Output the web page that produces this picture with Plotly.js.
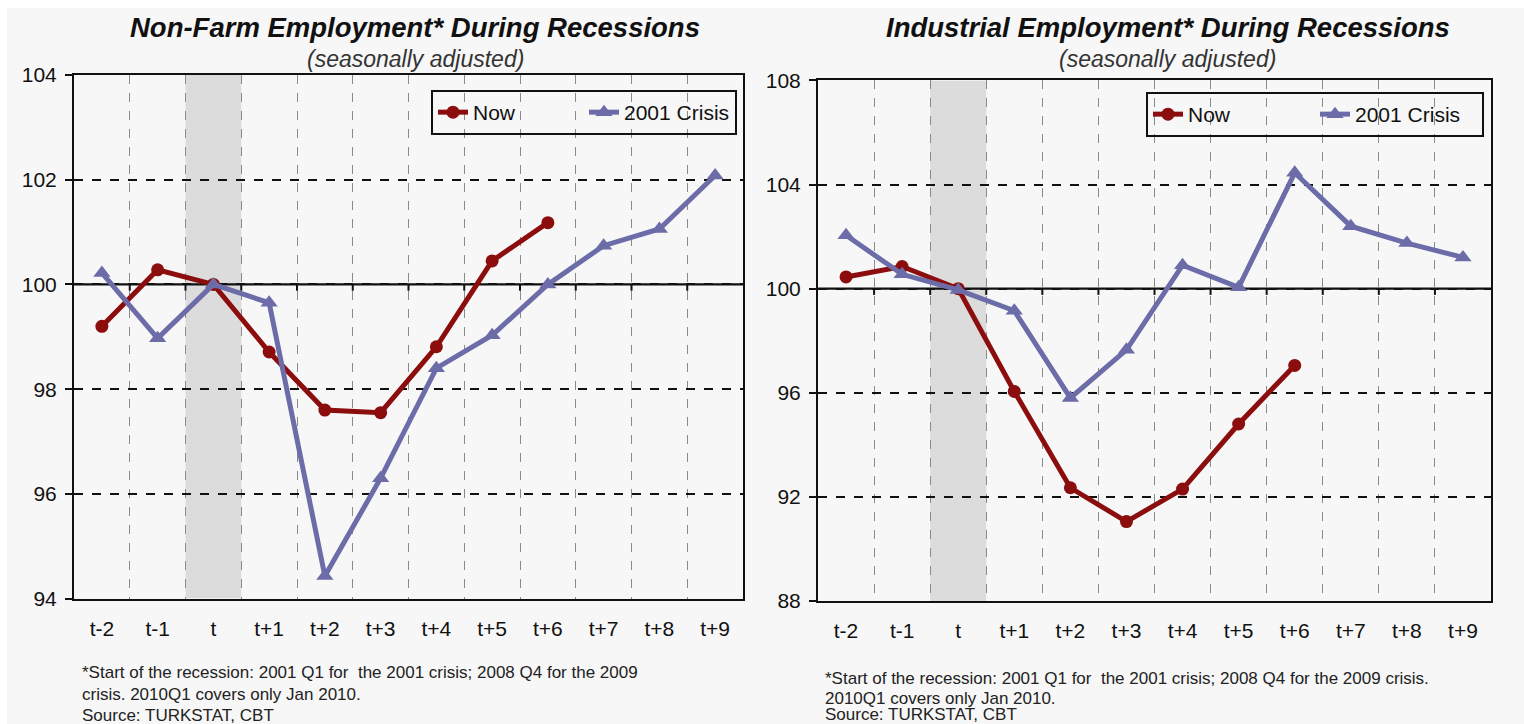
<!DOCTYPE html>
<html>
<head>
<meta charset="utf-8">
<script src="https://cdn.plot.ly/plotly-3.0.1.min.js"></script>
<style>
  html, body { margin: 0; padding: 0; background: #ffffff; width: 1524px; height: 724px; overflow: hidden; }
  #chart { position: absolute; left: 7px; top: 8px; width: 1517px; height: 716px; }
</style>
</head>
<body>
<div id="chart"></div>
<script>
// ---- data ----
const categories = ['t-2', 't-1', 't', 't+1', 't+2', 't+3', 't+4', 't+5', 't+6', 't+7', 't+8', 't+9'];
const recessionStart = 't';

const nonFarmNow    = [99.2, 100.28, 100.0, 98.71, 97.6, 97.55, 98.81, 100.45, 101.18];
const nonFarm2001   = [100.22, 98.97, 100.0, 99.65, 94.43, 96.3, 98.4, 99.03, 100.0, 100.74, 101.06, 102.08];

const industryNow   = [100.45, 100.85, 100.0, 96.05, 92.35, 91.05, 92.3, 94.8, 97.05];
const industry2001  = [102.05, 100.55, 99.95, 99.15, 95.8, 97.65, 100.9, 100.05, 104.45, 102.4, 101.75, 101.2];

const seriesNames = ['Now', '2001 Crisis'];
const leftRange = [94, 104];
const rightRange = [88, 108];
const baseline = 100;

const footLeft = [
  '*Start of the recession: 2001 Q1 for  the 2001 crisis; 2008 Q4 for the 2009',
  'crisis. 2010Q1 covers only Jan 2010.',
  'Source: TURKSTAT, CBT'
];
const footRight = [
  '*Start of the recession: 2001 Q1 for  the 2001 crisis; 2008 Q4 for the 2009 crisis.',
  '2010Q1 covers only Jan 2010.',
  'Source: TURKSTAT, CBT'
];

// ---- layout helpers (page pixels -> paper fractions) ----
const OX = 7, OY = 8, W = 1517, H = 716;
const ML = 67, MR = 33, MT = 67, MB = 123;
const PW = W - ML - MR, PH = H - MT - MB;
const px = x => (x - OX - ML) / PW;
const py = y => (OY + MT + PH - y) / PH;

const RED = '#8b0d0d';
const BLUE = '#6b6ca8';
const FONT = 'Liberation Sans, Arial, sans-serif';

function lineTrace(xs, ys, name, color, symbol, size, xa, ya, legend) {
  return {
    type: 'scatter', mode: 'lines+markers',
    x: xs.slice(0, ys.length), y: ys, name: name,
    xaxis: xa, yaxis: ya, legend: legend,
    line: { color: color, width: 5 },
    marker: { color: color, symbol: symbol, size: size },
    hoverinfo: 'x+y+name'
  };
}

const traces = [
  lineTrace(categories, nonFarmNow, seriesNames[0], RED, 'circle', 13, 'x', 'y', 'legend'),
  lineTrace(categories, nonFarm2001, seriesNames[1], BLUE, 'triangle-up', 15, 'x', 'y', 'legend'),
  lineTrace(categories, industryNow, seriesNames[0], RED, 'circle', 13, 'x2', 'y2', 'legend2'),
  lineTrace(categories, industry2001, seriesNames[1], BLUE, 'triangle-up', 15, 'x2', 'y2', 'legend2')
];

function xAxis(domain, anchor) {
  return {
    domain: domain, anchor: anchor,
    type: 'category', categoryorder: 'array', categoryarray: categories,
    range: [-0.5, categories.length - 0.5],
    tickson: 'boundaries', ticks: '',
    showgrid: true, gridcolor: '#8a8a8a', gridwidth: 1.2, griddash: 'dash',
    showline: true, linecolor: '#111', linewidth: 2, mirror: true,
    tickfont: { family: FONT, size: 21, color: '#111' },
    ticklabelstandoff: 10,
    zeroline: false, fixedrange: true
  };
}
function yAxis(domain, anchor, range, dtick) {
  return {
    domain: domain, anchor: anchor, range: range, dtick: dtick,
    showgrid: true, gridcolor: '#111', gridwidth: 1.6, griddash: 'dash',
    showline: true, linecolor: '#111', linewidth: 2, mirror: true,
    ticks: 'outside', ticklen: 7, tickwidth: 1.5, tickcolor: '#111',
    tickfont: { family: FONT, size: 21, color: '#111' },
    ticklabelstandoff: 4,
    zeroline: false, fixedrange: true
  };
}

const shapes = [];
function addDecor(xref, yref, range) {
  const idx = categories.indexOf(recessionStart);
  shapes.push({ type: 'rect', xref: xref, yref: yref, layer: 'below',
    x0: idx - 0.5, x1: idx + 0.5, y0: range[0], y1: range[1],
    fillcolor: '#dcdcdc', line: { width: 0 } });
  shapes.push({ type: 'line', xref: xref, yref: yref, layer: 'below',
    x0: -0.5, x1: categories.length - 0.5, y0: baseline, y1: baseline,
    line: { color: '#111', width: 2.2 } });
  const tickDepth = (range[1] - range[0]) * 0.012;
  for (let i = 1; i < categories.length; i++) {
    shapes.push({ type: 'line', xref: xref, yref: yref, layer: 'below',
      x0: i - 0.5, x1: i - 0.5, y0: baseline, y1: baseline - tickDepth,
      line: { color: '#111', width: 2 } });
  }
}
addDecor('x', 'y', leftRange);
addDecor('x2', 'y2', rightRange);

const annotations = [];
function addText(text, x, y, size, opts) {
  annotations.push(Object.assign({
    text: text, xref: 'paper', yref: 'paper', x: px(x), y: py(y),
    xanchor: 'center', yanchor: 'middle', showarrow: false,
    font: { family: FONT, size: size, color: '#111' }
  }, opts || {}));
}
addText('<b><i>Non-Farm Employment* During Recessions</i></b>', 415, 27, 27.5);
addText('<i>(seasonally adjusted)</i>', 415, 59, 23, { font: { family: FONT, size: 23, color: '#333' } });
addText('<b><i>Industrial Employment* During Recessions</i></b>', 1168, 27, 27.5);
addText('<i>(seasonally adjusted)</i>', 1167, 59, 23, { font: { family: FONT, size: 23, color: '#333' } });

const footLeftY = [672, 694, 715];
footLeft.forEach((t, i) => addText(t, 80, footLeftY[i], 17, { xanchor: 'left', font: { family: FONT, size: 17, color: '#222' } }));
const footRightY = [678, 698, 714];
footRight.forEach((t, i) => addText(t, 823, footRightY[i], 17, { xanchor: 'left', font: { family: FONT, size: 17, color: '#222' } }));

function legendCfg(xr, yt, ew) {
  return {
    orientation: 'h', x: px(xr), xanchor: 'right', y: py(yt), yanchor: 'top',
    xref: 'paper', yref: 'paper',
    entrywidth: ew, entrywidthmode: 'pixels',
    bgcolor: 'rgba(0,0,0,0)', bordercolor: '#111', borderwidth: 2,
    font: { family: FONT, size: 21, color: '#111' },
    itemclick: false, itemdoubleclick: false
  };
}

const layout = {
  width: W, height: H,
  margin: { l: ML, r: MR, t: MT, b: MB, pad: 0 },
  paper_bgcolor: '#f7f7f7', plot_bgcolor: '#f7f7f7',
  font: { family: FONT, color: '#111' },
  xaxis: xAxis([px(74), px(743)], 'y'),
  yaxis: yAxis([py(598.6), py(75)], 'x', leftRange, 2),
  xaxis2: xAxis([px(818), px(1491)], 'y2'),
  yaxis2: yAxis([py(601), py(80.4)], 'x2', rightRange, 4),
  showlegend: true,
  legend: legendCfg(737, 90, 106),
  legend2: legendCfg(1484, 92, 122),
  shapes: shapes,
  annotations: annotations
};

Plotly.newPlot('chart', traces, layout, { displayModeBar: false });
</script>
</body>
</html>
